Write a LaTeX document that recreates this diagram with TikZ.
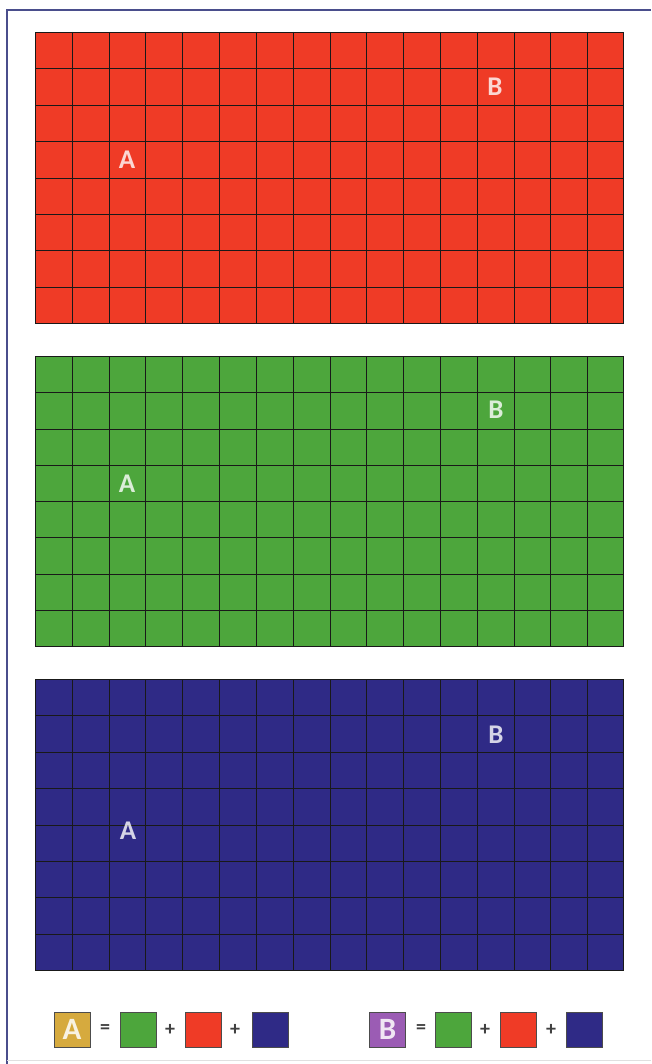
\documentclass[tikz,border=0pt]{standalone}
\usepackage{fontspec}
\setmainfont{Carlito}
\definecolor{cred}{HTML}{EF3B26}
\definecolor{cgreen}{HTML}{4DA63C}
\definecolor{cblue}{HTML}{2F2A86}
\definecolor{cgold}{HTML}{D6AA3E}
\definecolor{cpurple}{HTML}{9B5CB4}
\definecolor{frame}{HTML}{4A4E8C}
\newcommand\gridpanel[3]{%
  \fill[#3] (35,#1) rectangle (624,#2);
  \foreach \i in {1,...,15} {\pgfmathsetmacro\xx{round(35+\i*589/16)+0.5}\draw[gridline] (\xx,#1) -- (\xx,#2);}
  \foreach \j in {1,...,7} {\pgfmathsetmacro\yy{round(#1+\j*(#2-#1)/8)+0.5}\draw[gridline] (35,\yy) -- (624,\yy);}
  \draw[gridline] (35.5,#1.5) rectangle (623.5,#2.5);
}
\begin{document}
\begin{tikzpicture}[x=1pt,y=-1pt,
  gridline/.style={draw=black!90, line width=1.2pt},
  lbl/.style={font=\bfseries\fontsize{27}{27}\selectfont, text=white, text opacity=0.8, inner sep=0pt},
  key/.style={draw=black!70, line width=0.9pt, minimum width=36pt, minimum height=35pt, inner sep=0pt},
  op/.style={font=\bfseries\fontsize{20}{20}\selectfont, text=black!75, inner sep=0pt}]
\useasboundingbox (0,0) rectangle (651,1064);
\fill[white] (0,0) rectangle (651,1064);
% frame
\draw[frame, line width=1.6pt] (7,1064) -- (7,10) -- (651,10);
\draw[black!12, line width=0.8pt] (7,1060) -- (651,1060);
% panels
\gridpanel{32}{323}{cred}
\gridpanel{356}{646}{cgreen}
\gridpanel{679}{970}{cblue}
% letters
\node[lbl] (rA) at (127,160) {A};
\node[lbl] (rB) at (495,87) {B};
\node[lbl] (gA) at (127,484) {A};
\node[lbl] (gB) at (496,410) {B};
\node[lbl] (bA) at (128,831) {A};
\node[lbl] (bB) at (496,735) {B};
% legend
\node[key, fill=cgold, font=\bfseries\fontsize{31}{31}\selectfont, text=white, text opacity=0.85] (kA) at (72,1029.5) {A};
\node[op] (eqA) at (105,1029.5) {=};
\node[key, fill=cgreen] (kA1) at (138.5,1029.5) {};
\node[op] (pA1) at (170,1029.5) {+};
\node[key, fill=cred] (kA2) at (203,1029.5) {};
\node[op] (pA2) at (235,1029.5) {+};
\node[key, fill=cblue] (kA3) at (270,1029.5) {};
\node[key, fill=cpurple, font=\bfseries\fontsize{31}{31}\selectfont, text=white, text opacity=0.85] (kB) at (387.5,1029.5) {B};
\node[op] (eqB) at (421,1029.5) {=};
\node[key, fill=cgreen] (kB1) at (453.5,1029.5) {};
\node[op] (pB1) at (485,1029.5) {+};
\node[key, fill=cred] (kB2) at (518,1029.5) {};
\node[op] (pB2) at (551,1029.5) {+};
\node[key, fill=cblue] (kB3) at (584.5,1029.5) {};
\end{tikzpicture}
\end{document}
